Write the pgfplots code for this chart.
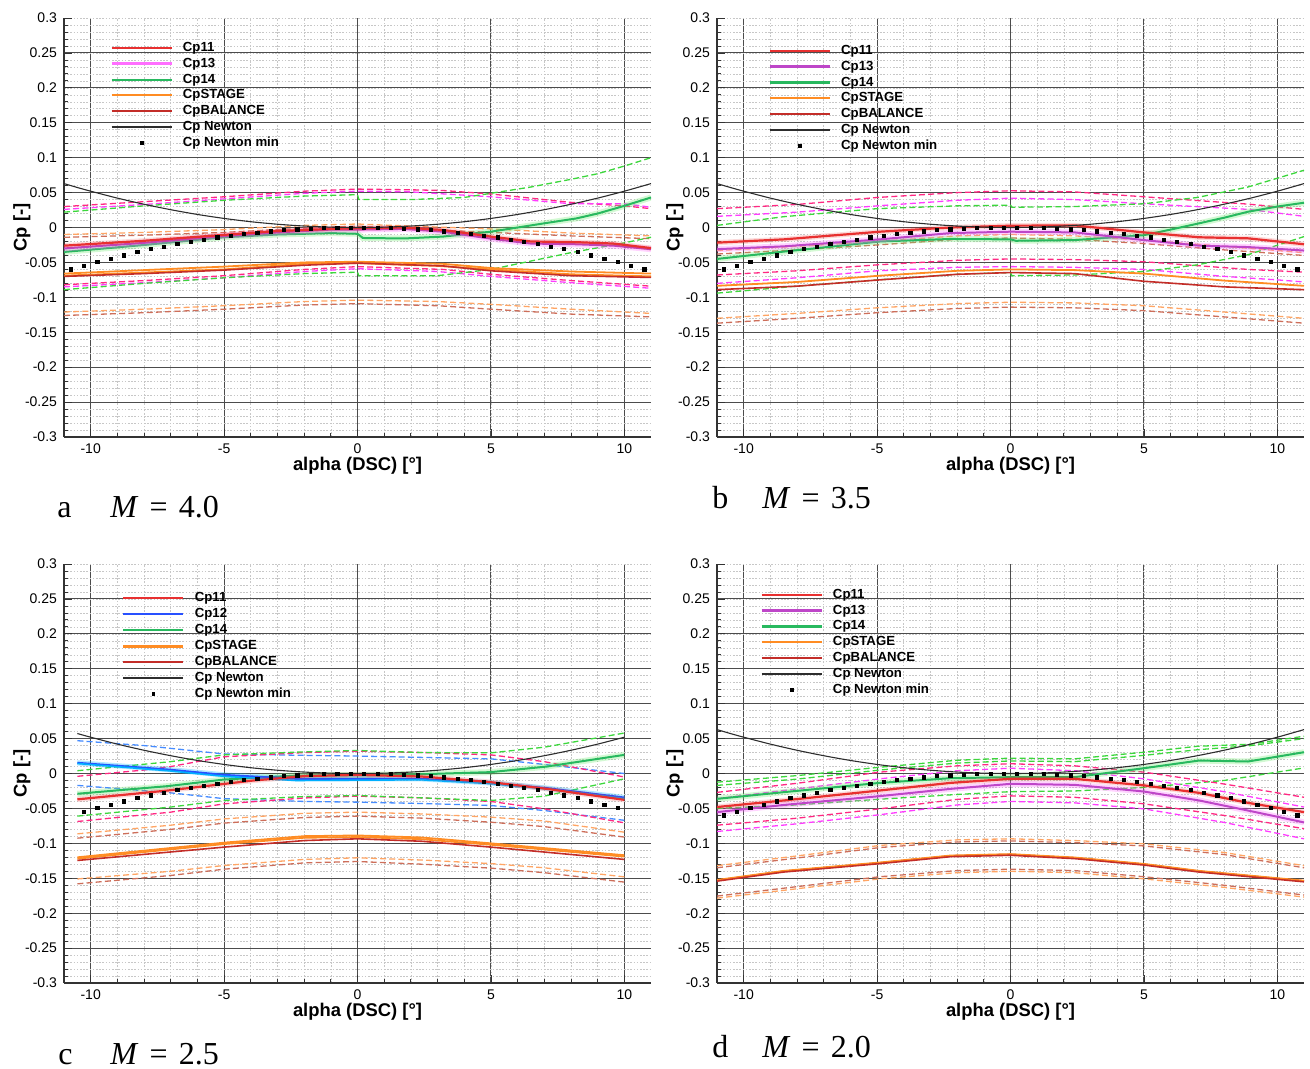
\documentclass[border=0pt]{standalone}
\usepackage{pgfplots}
\pgfplotsset{compat=1.18}
\usepackage{pgfplotstable}
\usepackage{fontspec}
\setmainfont{Liberation Sans}
\newfontfamily\serif{Liberation Serif}

\definecolor{c11}{RGB}{232,48,48}
\definecolor{c13}{RGB}{190,70,200}
\definecolor{c13b}{RGB}{255,110,255}
\definecolor{c14}{RGB}{40,185,95}
\definecolor{c14b}{RGB}{110,235,110}
\definecolor{cst}{RGB}{255,140,35}
\definecolor{cbal}{RGB}{195,45,40}
\definecolor{c12}{RGB}{40,80,255}
\definecolor{c12b}{RGB}{0,175,255}
\definecolor{dpink}{RGB}{255,40,130}
\definecolor{dmag}{RGB}{255,60,255}
\definecolor{dgreen}{RGB}{60,215,60}
\definecolor{dorange}{RGB}{255,165,100}
\definecolor{dbrown}{RGB}{205,110,90}
\definecolor{dblue}{RGB}{70,140,255}
\definecolor{newt}{RGB}{45,45,45}

\pgfplotstableread{
x y
-11 0.0629
-10.5 0.0573
-10 0.0520
-9 0.0421
-8 0.0333
-7 0.0255
-6 0.0187
-5 0.0130
-4 0.0083
-3 0.0047
-2 0.0021
-1 0.0005
0 0
1 0.0005
2 0.0021
3 0.0047
4 0.0083
5 0.0130
6 0.0187
7 0.0255
8 0.0333
9 0.0421
10 0.0520
11 0.0629
}\newtontab

\pgfplotstableread{
x y
-10.75 -0.0601
-10.25 -0.0546
-9.75 -0.0494
-9.25 -0.0445
-8.75 -0.0398
-8.25 -0.0354
-7.75 -0.0312
-7.25 -0.0273
-6.75 -0.0237
-6.25 -0.0203
-5.75 -0.0172
-5.25 -0.0143
-4.75 -0.0117
-4.25 -0.0094
-3.75 -0.0073
-3.25 -0.0055
-2.75 -0.0039
-2.25 -0.0026
-1.75 -0.0016
-1.25 -0.0008
-0.75 -0.0003
-0.25 0.0000
0.25 0.0000
0.75 -0.0003
1.25 -0.0008
1.75 -0.0016
2.25 -0.0026
2.75 -0.0039
3.25 -0.0055
3.75 -0.0073
4.25 -0.0094
4.75 -0.0117
5.25 -0.0143
5.75 -0.0172
6.25 -0.0203
6.75 -0.0237
7.25 -0.0273
7.75 -0.0312
8.25 -0.0354
8.75 -0.0398
9.25 -0.0445
9.75 -0.0494
10.25 -0.0546
10.75 -0.0601
}\dotstab

\pgfplotsset{
  cpaxis/.style={
    scale only axis, width=293.5pt, height=209.5pt,
    xmin=-11, xmax=11, ymin=-0.3, ymax=0.3,
    axis x line*=bottom, axis y line*=left,
    axis line style={black!80, line width=0.6pt},
    xtick={-10,-5,0,5,10},
    ytick={-0.3,-0.25,-0.2,-0.15,-0.1,-0.05,0,0.05,0.1,0.15,0.2,0.25},
    extra y ticks={0.3}, extra y tick style={grid=none},
    minor xtick={-10,-9,...,10},
    minor ytick={-0.29,-0.28,...,0.295},
    grid=both,
    major grid style={black!70, line width=0.5pt},
    minor grid style={black!22, dash pattern=on 0.8pt off 0.8pt, line width=0.3pt},
    tick align=inside, major tick length=4pt, minor tick length=2pt,
    tick style={black!80, line width=0.4pt},
    ticklabel style={font=\fontsize{7}{8}\selectfont},
    /pgf/number format/.cd, fixed, precision=2, assume math mode=true, /pgfplots/.cd,
    xlabel={alpha (DSC) [°]}, ylabel={Cp [-]},
    label style={font=\bfseries\fontsize{9.2}{10}\selectfont},
    xlabel style={at={(axis description cs:0.5,-0.069)}, anchor=center},
    ylabel style={at={(axis description cs:-0.0716,0.5)}, anchor=center},
    legend image code/.code={\draw[mark repeat=2,mark phase=2,#1] plot coordinates {(0pt,0pt) (15pt,0pt) (30pt,0pt)};},
    legend cell align=left,
    legend style={anchor=north west, draw=none, fill=none,
      font=\bfseries\fontsize{6.6}{7}\selectfont,
      nodes={inner sep=0pt, text height=4.8pt, text depth=1.3pt},
      row sep=1.85pt,
      /tikz/every odd column/.append style={column sep=5pt}},
  },
  s11/.style={forget plot, c11, line width=1.1pt, preaction={draw=c11, draw opacity=0.18, line width=2.6pt}},
  s13/.style={forget plot, c13, line width=1.0pt, preaction={draw=c13b, draw opacity=0.3, line width=3pt}},
  s14/.style={forget plot, c14, line width=1.0pt, preaction={draw=c14b, draw opacity=0.3, line width=3pt}},
  s12/.style={forget plot, c12, line width=1.0pt, preaction={draw=c12b, draw opacity=0.3, line width=2.6pt}},
  sst/.style={forget plot, cst, line width=0.9pt},
  sbal/.style={forget plot, cbal, line width=0.8pt},
  dsh/.style={forget plot, line width=0.65pt, dash pattern=on 3pt off 1.6pt},
  newtline/.style={forget plot, newt, line width=0.55pt, smooth},
  newtdots/.style={forget plot, only marks, mark=square*, mark size=0.8pt, black},
  lgdots/.style={only marks, mark=square*, mark size=0.65pt, black},
}

\begin{document}
\begin{tikzpicture}[x=1pt,y=1pt]
\path[use as bounding box] (0,0) rectangle (655,-534.5);

% ---------------- panel a : M = 4.0
\begin{axis}[cpaxis, at={(32pt,-218.5pt)}, anchor=south west, legend style={at={(0.068,0.954)}}]
\addlegendimage{color=c11, line width=1.0pt}\addlegendentry{Cp11}
\addlegendimage{color=c13b, line width=1.3pt}\addlegendentry{Cp13}
\addlegendimage{color=c14, line width=1.0pt}\addlegendentry{Cp14}
\addlegendimage{color=cst, line width=1.0pt}\addlegendentry{CpSTAGE}
\addlegendimage{color=cbal, line width=1.0pt}\addlegendentry{CpBALANCE}
\addlegendimage{color=newt, line width=0.8pt}\addlegendentry{Cp Newton}
\addlegendimage{lgdots}\addlegendentry{Cp Newton min}
% dashed bands
\addplot[dsh, dpink] coordinates {(-11,0.030) (-8,0.037) (-5,0.044) (-2,0.052) (0,0.055) (2,0.054) (3.2,0.053) (5,0.048) (6.5,0.042) (8,0.036) (10,0.031) (11,0.027)};
\addplot[dsh, dmag] coordinates {(-11,0.026) (-8,0.033) (-5,0.041) (-2,0.049) (0,0.052) (2,0.051) (5,0.044) (8,0.034) (10,0.034) (11,0.029)};
\addplot[dsh, dgreen] coordinates {(-11,0.022) (-8,0.031) (-5,0.039) (-2,0.045) (0,0.047) (0.05,0.040) (2,0.040) (4,0.043) (5,0.049) (6.5,0.058) (8,0.069) (9,0.077) (10,0.088) (11,0.100)};
\addplot[dsh, dorange] coordinates {(-11,-0.010) (-8,-0.007) (-5,-0.003) (-2,0.003) (0,0.005) (2,0.002) (5,-0.002) (8,-0.008) (11,-0.012)};
\addplot[dsh, dbrown] coordinates {(-11,-0.014) (-8,-0.011) (-5,-0.007) (-2,-0.001) (0,0.002) (2,-0.002) (5,-0.007) (8,-0.012) (11,-0.016)};
\addplot[dsh, dpink] coordinates {(-11,-0.082) (-8,-0.076) (-5,-0.069) (-2,-0.060) (0,-0.056) (3.2,-0.060) (5,-0.067) (8,-0.076) (11,-0.084)};
\addplot[dsh, dmag] coordinates {(-11,-0.085) (-8,-0.079) (-5,-0.072) (-2,-0.063) (0,-0.059) (3,-0.063) (5,-0.070) (8,-0.079) (11,-0.087)};
\addplot[dsh, dgreen] coordinates {(-11,-0.089) (-8,-0.080) (-5,-0.072) (-2,-0.066) (0,-0.064) (0.05,-0.069) (3,-0.069) (5,-0.060) (6.5,-0.048) (8,-0.036) (10,-0.022) (11,-0.014)};
\addplot[dsh, dorange] coordinates {(-11,-0.121) (-8,-0.117) (-5,-0.112) (-2,-0.106) (0,-0.104) (3,-0.106) (5,-0.110) (8,-0.117) (11,-0.123)};
\addplot[dsh, dbrown] coordinates {(-11,-0.126) (-8,-0.122) (-5,-0.117) (-2,-0.111) (0,-0.109) (3,-0.112) (5,-0.117) (8,-0.124) (11,-0.128)};
% solid
\addplot[sst] coordinates {(-11,-0.066) (-8,-0.061) (-5,-0.056) (-2,-0.050) (0,-0.049) (3.2,-0.052) (5,-0.058) (8,-0.063) (11,-0.066)};
\addplot[sst] coordinates {(-11,-0.069) (-5,-0.060) (-2,-0.052) (0,-0.051) (3,-0.055) (5,-0.060) (8,-0.067) (11,-0.070)};
\addplot[sbal] coordinates {(-11,-0.070) (-8,-0.066) (-5,-0.061) (-2,-0.054) (0,-0.051) (3.2,-0.055) (5,-0.062) (8,-0.069) (11,-0.0715)};
\addplot[s14] coordinates {(-11,-0.035) (-8,-0.025) (-5,-0.014) (-3,-0.010) (-1,-0.008) (0,-0.009) (0.2,-0.015) (1.75,-0.0157) (3.2,-0.013) (5,-0.006) (6,0.000) (7,0.006) (8.2,0.013) (9,0.020) (10,0.031) (11,0.043)};
\addplot[s13] coordinates {(-11,-0.030) (-8,-0.022) (-5,-0.012) (-3,-0.007) (-1,-0.003) (0,-0.003) (1.75,-0.002) (3.2,-0.006) (5,-0.016) (6.5,-0.023) (8.2,-0.024) (9.6,-0.026) (11,-0.031)};
\addplot[s11] coordinates {(-11,-0.026) (-8,-0.019) (-5,-0.0105) (-3,-0.005) (-1,-0.002) (0,-0.001) (1.75,0.000) (3.2,-0.0035) (5,-0.013) (6.5,-0.020) (8.2,-0.021) (9.6,-0.023) (11,-0.0295)};
\addplot[newtline] table {\newtontab};
\addplot[newtdots] table {\dotstab};
\end{axis}

% ---------------- panel b : M = 3.5
\begin{axis}[cpaxis, at={(358.5pt,-218.5pt)}, anchor=south west, legend style={at={(0.077,0.947)}}]
\addlegendimage{color=c11, line width=1.0pt}\addlegendentry{Cp11}
\addlegendimage{color=c13, line width=1.3pt}\addlegendentry{Cp13}
\addlegendimage{color=c14, line width=1.1pt}\addlegendentry{Cp14}
\addlegendimage{color=cst, line width=1.0pt}\addlegendentry{CpSTAGE}
\addlegendimage{color=cbal, line width=1.0pt}\addlegendentry{CpBALANCE}
\addlegendimage{color=newt, line width=0.8pt}\addlegendentry{Cp Newton}
\addlegendimage{lgdots}\addlegendentry{Cp Newton min}
\addplot[dsh, dpink] coordinates {(-11,0.027) (-8,0.033) (-5,0.043) (-2,0.050) (0,0.0526) (2.4,0.051) (5,0.044) (8.9,0.0335) (11,0.026)};
\addplot[dsh, dmag] coordinates {(-11,0.016) (-8,0.022) (-5,0.031) (-2,0.039) (0,0.042) (2.4,0.040) (5,0.034) (8.9,0.026) (11,0.016)};
\addplot[dsh, dgreen] coordinates {(-11,0.003) (-8.5,0.0155) (-5,0.027) (-2,0.031) (0,0.032) (0.05,0.029) (2.4,0.030) (5,0.034) (7,0.043) (8.9,0.058) (11,0.082)};
\addplot[dsh, dorange] coordinates {(-11,-0.033) (-8,-0.027) (-5,-0.020) (-2,-0.012) (0,-0.010) (2.4,-0.012) (5,-0.018) (8,-0.027) (11,-0.036)};
\addplot[dsh, dbrown] coordinates {(-11,-0.038) (-8,-0.032) (-5,-0.025) (-2,-0.017) (0,-0.015) (2.4,-0.017) (5,-0.023) (8,-0.032) (11,-0.040)};
\addplot[dsh, dpink] coordinates {(-11,-0.068) (-8,-0.062) (-5,-0.0535) (-2,-0.047) (0,-0.045) (2.4,-0.046) (5,-0.049) (8.9,-0.060) (11,-0.064)};
\addplot[dsh, dmag] coordinates {(-11,-0.080) (-8,-0.072) (-5,-0.062) (-2,-0.057) (0,-0.056) (2.4,-0.057) (5,-0.060) (8,-0.070) (10,-0.075) (11,-0.078)};
\addplot[dsh, dgreen] coordinates {(-11,-0.094) (-8,-0.084) (-5,-0.075) (-2,-0.067) (0,-0.0645) (0.05,-0.069) (2.4,-0.068) (5,-0.063) (7,-0.0535) (8.9,-0.039) (11,-0.013)};
\addplot[dsh, dorange] coordinates {(-11,-0.130) (-8,-0.123) (-5,-0.115) (-2,-0.109) (0,-0.107) (2.4,-0.108) (5,-0.112) (8,-0.121) (11,-0.130)};
\addplot[dsh, dbrown] coordinates {(-11,-0.137) (-8,-0.130) (-5,-0.122) (-2,-0.116) (0,-0.114) (2.4,-0.115) (5,-0.119) (8,-0.128) (11,-0.137)};
\addplot[sst] coordinates {(-11,-0.0835) (-8,-0.078) (-4.9,-0.069) (-2,-0.062) (0,-0.060) (2.4,-0.061) (5,-0.066) (8,-0.076) (11,-0.0835)};
\addplot[sbal] coordinates {(-11,-0.089) (-8,-0.084) (-4.9,-0.075) (-2,-0.067) (0,-0.0645) (2.4,-0.066) (5,-0.077) (8,-0.085) (11,-0.089)};
\addplot[s14] coordinates {(-11,-0.045) (-8.5,-0.0345) (-4.9,-0.020) (-2.25,-0.0164) (0,-0.017) (0.2,-0.019) (2.4,-0.018) (5,-0.011) (6,-0.003) (7.07,0.006) (8,0.014) (8.9,0.0226) (10,0.030) (11,0.0355)};
\addplot[s13] coordinates {(-11,-0.031) (-8.5,-0.027) (-4.9,-0.017) (-2.25,-0.008) (0,-0.006) (2.4,-0.007) (5,-0.018) (7.07,-0.026) (8.9,-0.028) (11,-0.033)};
\addplot[s11] coordinates {(-11,-0.0217) (-8.5,-0.017) (-4.9,-0.006) (-2.25,0) (0,0.0026) (2.4,0.003) (5,-0.007) (7.07,-0.014) (8.9,-0.0155) (11,-0.024)};
\addplot[newtline] table {\newtontab};
\addplot[newtdots] table {\dotstab};
\end{axis}

% ---------------- panel c : M = 2.5
\begin{axis}[cpaxis, at={(32pt,-491.5pt)}, anchor=south west, legend style={at={(0.088,0.943)}}]
\addlegendimage{color=c11, line width=1.0pt}\addlegendentry{Cp11}
\addlegendimage{color=c12, line width=1.0pt}\addlegendentry{Cp12}
\addlegendimage{color=c14, line width=1.0pt}\addlegendentry{Cp14}
\addlegendimage{color=cst, line width=1.4pt}\addlegendentry{CpSTAGE}
\addlegendimage{color=cbal, line width=1.0pt}\addlegendentry{CpBALANCE}
\addlegendimage{color=newt, line width=0.8pt}\addlegendentry{Cp Newton}
\addlegendimage{lgdots}\addlegendentry{Cp Newton min}
\addplot[dsh, dblue] coordinates {(-10.5,0.047) (-8,0.040) (-5,0.028) (-2,0.026) (0,0.025) (2.5,0.023) (5,0.021) (7,0.013) (10,0.000)};
\addplot[dsh, dpink] coordinates {(-10.5,-0.004) (-8,0.005) (-7,0.010) (-5,0.024) (-2,0.030) (0,0.032) (2.5,0.030) (5,0.0267) (7,0.017) (10,-0.005)};
\addplot[dsh, dgreen] coordinates {(-10.5,0.004) (-7,0.017) (-5,0.0267) (-2,0.031) (0,0.033) (2.5,0.030) (5,0.0296) (7,0.0377) (10,0.058)};
\addplot[dsh, dblue] coordinates {(-10.5,-0.017) (-7,-0.0277) (-5,-0.036) (-2,-0.040) (0,-0.041) (2.5,-0.043) (5,-0.0458) (7,-0.053) (10,-0.067)};
\addplot[dsh, dpink] coordinates {(-10.5,-0.0687) (-7,-0.0553) (-5,-0.0434) (-2,-0.035) (0,-0.0324) (2.5,-0.035) (5,-0.040) (7,-0.0506) (10,-0.0706)};
\addplot[dsh, dgreen] coordinates {(-10.5,-0.061) (-7,-0.048) (-5,-0.0386) (-2,-0.033) (0,-0.0315) (2.5,-0.035) (5,-0.0386) (7,-0.0324) (10,-0.0076)};
\addplot[dsh, dorange] coordinates {(-10.5,-0.0864) (-7,-0.074) (-5,-0.065) (-2,-0.057) (0,-0.0553) (2.5,-0.058) (5,-0.0625) (7,-0.068) (10,-0.084)};
\addplot[dsh, dbrown] coordinates {(-10.5,-0.0926) (-7,-0.080) (-5,-0.071) (-2,-0.063) (0,-0.061) (2.5,-0.064) (5,-0.0697) (7,-0.076) (10,-0.091)};
\addplot[dsh, dorange] coordinates {(-10.5,-0.151) (-7,-0.140) (-5,-0.1317) (-2,-0.123) (0,-0.1207) (2.5,-0.124) (5,-0.129) (7,-0.135) (10,-0.148)};
\addplot[dsh, dbrown] coordinates {(-10.5,-0.158) (-7,-0.146) (-5,-0.137) (-2,-0.128) (0,-0.126) (2.5,-0.130) (5,-0.1355) (7,-0.142) (10,-0.1555)};
\addplot[sst] coordinates {(-10.5,-0.120) (-5,-0.099) (-2,-0.0897) (0,-0.0887) (2.4,-0.0916) (3,-0.0935) (5,-0.100) (10,-0.117)};
\addplot[sst] coordinates {(-10.5,-0.122) (-5,-0.101) (-2,-0.092) (0,-0.091) (2.4,-0.094) (3,-0.096) (5,-0.102) (10,-0.119)};
\addplot[sbal] coordinates {(-10.5,-0.1245) (-5,-0.1054) (-2,-0.096) (0,-0.0935) (2.4,-0.097) (5,-0.1054) (10,-0.123)};
\addplot[s14] coordinates {(-10.5,-0.029) (-7.1,-0.018) (-5,-0.0086) (-2.3,-0.003) (0,-0.002) (2.4,-0.001) (5,0.002) (7.1,0.010) (10,0.0267)};
\addplot[s12] coordinates {(-10.5,0.0153) (-7.1,0.0057) (-5,-0.002) (-2.3,-0.0076) (0,-0.0076) (2.4,-0.0076) (5,-0.0134) (7.1,-0.021) (10,-0.0344)};
\addplot[forget plot, c12b, line width=0.8pt] coordinates {(-10.5,0.0143) (-7.1,0.004) (-5,-0.004) (-2.3,-0.010) (0,-0.0095) (2.4,-0.009) (5,-0.0145) (7.1,-0.022) (10,-0.036)};
\addplot[s11] coordinates {(-10.5,-0.037) (-7.1,-0.0243) (-3.9,-0.010) (-2,-0.0038) (0,-0.002) (2.4,-0.0043) (5,-0.0124) (7.1,-0.022) (10,-0.0377)};
\addplot[newtline, restrict x to domain=-10.6:10.05] table {\newtontab};
\addplot[newtdots, restrict x to domain=-10.6:10.05] table {\dotstab};
\end{axis}

% ---------------- panel d : M = 2.0
\begin{axis}[cpaxis, at={(358.5pt,-491.5pt)}, anchor=south west, legend style={at={(0.063,0.952)}}]
\addlegendimage{color=c11, line width=1.0pt}\addlegendentry{Cp11}
\addlegendimage{color=c13, line width=1.3pt}\addlegendentry{Cp13}
\addlegendimage{color=c14, line width=1.2pt}\addlegendentry{Cp14}
\addlegendimage{color=cst, line width=1.0pt}\addlegendentry{CpSTAGE}
\addlegendimage{color=cbal, line width=1.1pt}\addlegendentry{CpBALANCE}
\addlegendimage{color=newt, line width=0.8pt}\addlegendentry{Cp Newton}
\addlegendimage{lgdots}\addlegendentry{Cp Newton min}
\addplot[dsh, dgreen] coordinates {(-11,-0.0124) (-8,-0.003) (-4.9,0.009) (-2,0.019) (0,0.022) (2.4,0.021) (5,0.0305) (7,0.039) (9,0.042) (11,0.0534)};
\addplot[dsh, dgreen] coordinates {(-11,-0.017) (-8,-0.008) (-4.9,0.005) (-2,0.015) (0,0.018) (2.4,0.017) (5,0.026) (7,0.034) (9,0.040) (11,0.050)};
\addplot[dsh, dgreen] coordinates {(-11,-0.050) (-8,-0.045) (-5,-0.037) (-2,-0.030) (0,-0.026) (2.4,-0.025) (5,-0.020) (8,-0.010) (11,0.008)};
\addplot[dsh, dpink] coordinates {(-11,-0.027) (-8,-0.014) (-4.9,0.002) (-2,0.011) (0,0.014) (2.4,0.011) (5,0.002) (8,-0.015) (11,-0.034)};
\addplot[dsh, dmag] coordinates {(-11,-0.036) (-8,-0.022) (-4.9,-0.0076) (-2,0.004) (0,0.0076) (2.4,0.004) (5,-0.0076) (8,-0.026) (11,-0.048)};
\addplot[dsh, dpink] coordinates {(-11,-0.074) (-8,-0.064) (-4.9,-0.0506) (-2,-0.037) (0,-0.032) (2.4,-0.034) (5,-0.0434) (8,-0.060) (11,-0.079)};
\addplot[dsh, dmag] coordinates {(-11,-0.083) (-8,-0.072) (-4.9,-0.059) (-2,-0.045) (0,-0.040) (2.4,-0.042) (5,-0.0506) (8,-0.070) (11,-0.0935)};
\addplot[dsh, dorange] coordinates {(-11,-0.132) (-8,-0.118) (-4.9,-0.103) (-2,-0.095) (0,-0.0935) (2.4,-0.096) (5,-0.1007) (8,-0.113) (11,-0.132)};
\addplot[dsh, dbrown] coordinates {(-11,-0.135) (-8,-0.121) (-4.9,-0.106) (-2,-0.098) (0,-0.0965) (2.4,-0.099) (5,-0.1037) (8,-0.116) (11,-0.135)};
\addplot[dsh, dorange] coordinates {(-11,-0.1785) (-8,-0.165) (-4.9,-0.1508) (-2,-0.142) (0,-0.140) (2.4,-0.142) (5,-0.1508) (8,-0.163) (11,-0.177)};
\addplot[dsh, dbrown] coordinates {(-11,-0.1755) (-8,-0.162) (-4.9,-0.1478) (-2,-0.139) (0,-0.137) (2.4,-0.139) (5,-0.1478) (8,-0.160) (11,-0.174)};
\addplot[sbal, line width=1.2pt] coordinates {(-11,-0.1535) (-8.5,-0.1405) (-4.9,-0.1285) (-2.25,-0.1185) (0,-0.1165) (2.4,-0.1213) (5,-0.1305) (7.07,-0.1405) (11,-0.1545)};
\addplot[sst, line width=0.6pt] coordinates {(-11,-0.152) (-8.5,-0.139) (-4.9,-0.127) (-2.25,-0.117) (0,-0.115) (2.4,-0.1198) (5,-0.129) (7.07,-0.139) (11,-0.153)};
\addplot[s14] coordinates {(-11,-0.0363) (-8.5,-0.0267) (-4.9,-0.0134) (-2.25,-0.0067) (0,-0.0052) (2.4,-0.0052) (5,0.0076) (7.07,0.0186) (8.9,0.0172) (11,0.0305)};
\addplot[s13] coordinates {(-11,-0.0553) (-8.5,-0.045) (-4.9,-0.0324) (-2.25,-0.022) (0,-0.0148) (2.4,-0.0162) (5,-0.0258) (7.07,-0.0386) (8.9,-0.053) (11,-0.070)};
\addplot[s11] coordinates {(-11,-0.048) (-8.5,-0.0386) (-4.9,-0.0243) (-2.25,-0.0134) (0,-0.0076) (2.4,-0.0076) (5,-0.017) (7.07,-0.0277) (8.9,-0.042) (11,-0.0553)};
\addplot[newtline] table {\newtontab};
\addplot[newtdots] table {\dotstab};
\end{axis}

% panel captions
\tikzset{pcap/.style={anchor=base west, inner sep=0pt, font=\serif\fontsize{16}{16}\selectfont}}
\node[pcap] at (28.5,-258.5) {a};
\node[pcap] at (55,-258.5) {\textit{M}\hspace{0.35em}=\hspace{0.35em}4.0};
\node[pcap] at (356,-254) {b};
\node[pcap] at (381,-254) {\textit{M}\hspace{0.35em}=\hspace{0.35em}3.5};
\node[pcap] at (29,-532) {c};
\node[pcap] at (55,-532) {\textit{M}\hspace{0.35em}=\hspace{0.35em}2.5};
\node[pcap] at (356,-528.5) {d};
\node[pcap] at (381,-528.5) {\textit{M}\hspace{0.35em}=\hspace{0.35em}2.0};
\end{tikzpicture}
\end{document}
